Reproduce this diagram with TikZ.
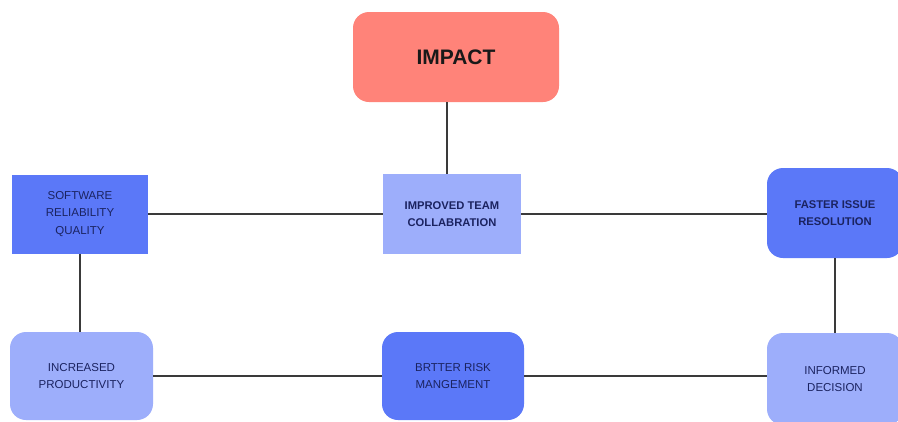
\documentclass[tikz,border=0pt]{standalone}
\usepackage{fontspec}
\setmainfont{Liberation Sans}
\begin{document}
\definecolor{salmon}{HTML}{FF8379}
\definecolor{midblue}{HTML}{5B78F8}
\definecolor{lightblue}{HTML}{9DAEFB}
\definecolor{navy}{HTML}{1B2360}
\definecolor{linkgray}{HTML}{3A3A3A}
\begin{tikzpicture}[x=1pt,y=-1pt,
  box/.style={draw=none,align=center,inner sep=0pt,text=navy,font=\fontsize{11.5}{17.5}\selectfont},
  roundbox/.style={box,rounded corners=16pt},
  boldtext/.style={font=\fontsize{11.2}{16.5}\selectfont\bfseries},
  link/.style={draw=linkgray,line width=1.4pt}]
\useasboundingbox (0,0) rectangle (898,421);
\fill[white] (0,0) rectangle (898,421);

% top goal node
\node[roundbox,fill=salmon,text=black!90,minimum width=206pt,minimum height=90pt,
      font=\fontsize{21}{24}\selectfont\bfseries] (impact) at (456,57) {IMPACT};

% middle row
\node[box,boldtext,fill=lightblue,minimum width=138pt,minimum height=80pt] (team) at (452,214)
  {IMPROVED TEAM\\COLLABRATION};
\node[box,fill=midblue,minimum width=136pt,minimum height=79pt] (soft) at (80,214)
  {SOFTWARE\\RELIABILITY\\QUALITY};
\node[roundbox,boldtext,fill=midblue,minimum width=136pt,minimum height=90pt] (fast) at (835,213)
  {FASTER ISSUE\\RESOLUTION};

% bottom row
\node[roundbox,fill=lightblue,minimum width=143pt,minimum height=88pt] (prod) at (81.5,376)
  {INCREASED\\PRODUCTIVITY};
\node[roundbox,fill=midblue,minimum width=142pt,minimum height=88pt] (risk) at (453,376)
  {BRTTER RISK\\MANGEMENT};
\node[roundbox,fill=lightblue,minimum width=136pt,minimum height=92pt] (info) at (835,379)
  {INFORMED\\DECISION};

% connectors
\coordinate (impdrop) at ([xshift=-9pt]impact.south);
\draw[link] (impdrop) -- (impdrop |- team.north);
\draw[link] (soft.east) -- (team.west);
\draw[link] (team.east) -- (team.east -| fast.west);
\draw[link] (soft.south) -- (soft.south |- prod.north);
\draw[link] (prod.east) -- (risk.west);
\draw[link] (risk.east) -- (risk.east -| info.west);
\draw[link] (fast.south) -- (fast.south |- info.north);
\end{tikzpicture}
\end{document}
